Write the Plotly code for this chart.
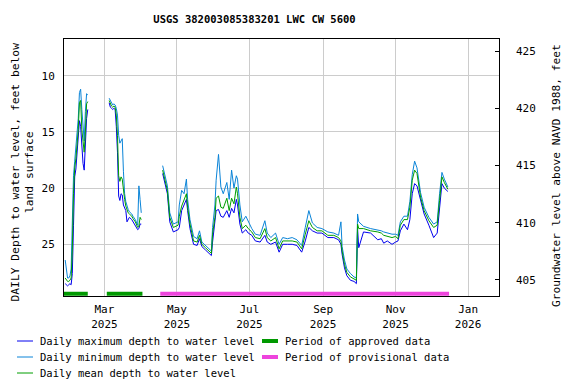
import plotly.graph_objects as go

FONT = "DejaVu Sans Mono"
MAX_COLOR = "#0000ee"
MIN_COLOR = "#0a84d8"
MEAN_COLOR = "#009e00"
APPROVED_COLOR = "#009900"
PROVISIONAL_COLOR = "#ee44dd"
GRID_COLOR = "#cccccc"

# the page body has an 8 px margin, so the figure is 8 px smaller than the
# window and every pixel position below is the reference position minus 8
FIG_W, FIG_H = 568, 376
PLOT_L, PLOT_R, PLOT_T, PLOT_B = 56, 491, 31, 288

# daily values (depth below land surface, feet)
dates = [
    "2025-01-27", "2025-01-28", "2025-01-29", "2025-01-30", "2025-01-31",
    "2025-02-01", "2025-02-02", "2025-02-03", "2025-02-04", "2025-02-05",
    "2025-02-06", "2025-02-07", "2025-02-08", "2025-02-09", "2025-02-10",
    "2025-02-11", "2025-02-12", "2025-02-13", "2025-02-14", "2025-02-15",
    "2025-02-25",
    "2025-03-05", "2025-03-06", "2025-03-07", "2025-03-08", "2025-03-09",
    "2025-03-10", "2025-03-11", "2025-03-12", "2025-03-13", "2025-03-14",
    "2025-03-15", "2025-03-16", "2025-03-17", "2025-03-18", "2025-03-19",
    "2025-03-20", "2025-03-21", "2025-03-22", "2025-03-24", "2025-03-25",
    "2025-03-27", "2025-03-29", "2025-03-30", "2025-03-31", "2025-04-01",
    "2025-04-10",
    "2025-04-19", "2025-04-23", "2025-04-25", "2025-04-28", "2025-05-02",
    "2025-05-03", "2025-05-05", "2025-05-07", "2025-05-09", "2025-05-10",
    "2025-05-12", "2025-05-15", "2025-05-18", "2025-05-20", "2025-05-22",
    "2025-05-25", "2025-05-29", "2025-05-30", "2025-05-31", "2025-06-02",
    "2025-06-03", "2025-06-05", "2025-06-07", "2025-06-09", "2025-06-12",
    "2025-06-14", "2025-06-16", "2025-06-18", "2025-06-20", "2025-06-21",
    "2025-06-23", "2025-06-25", "2025-06-28", "2025-06-30", "2025-07-03",
    "2025-07-06", "2025-07-10", "2025-07-14", "2025-07-16", "2025-07-19",
    "2025-07-23", "2025-07-26", "2025-07-29", "2025-08-02", "2025-08-06",
    "2025-08-10", "2025-08-14", "2025-08-17", "2025-08-20", "2025-08-23",
    "2025-08-27", "2025-08-31", "2025-09-05", "2025-09-10", "2025-09-14",
    "2025-09-16", "2025-09-17", "2025-09-19", "2025-09-21", "2025-09-24",
    "2025-09-27", "2025-09-29", "2025-09-30", "2025-10-01", "2025-10-05",
    "2025-10-11", "2025-10-17", "2025-10-20", "2025-10-22", "2025-10-25",
    "2025-10-29", "2025-11-01", "2025-11-03", "2025-11-05", "2025-11-08",
    "2025-11-11", "2025-11-13", "2025-11-15", "2025-11-17", "2025-11-19",
    "2025-11-22", "2025-11-25", "2025-11-29", "2025-12-03", "2025-12-06",
    "2025-12-08", "2025-12-10", "2025-12-12", "2025-12-15",
]

depth_max = [
    28.5, 28.6, 28.7, 28.6, 28.5, 28.6, 27.6, 23.3, 19.0, 18.3,
    17.0, 16.0, 14.0, 14.5, 16.6, 17.8, 18.4, 16.2, 13.8, 13.0,
    None,
    12.4, 12.8, 12.9, 13.0, 12.9, 13.0, 14.5, 16.8, 20.7, 21.1,
    20.5, 20.6, 21.5, 21.8, 22.0, 23.0, 22.8, 22.6, 22.8, 23.0,
    23.3, 23.7, 23.6, 23.2, 23.2,
    None,
    18.7, 20.5, 23.0, 23.9, 23.7, 23.5, 22.0, 21.5, 21.0, 22.0,
    23.6, 25.0, 25.1, 24.5, 25.2, 25.5, 25.9, 26.0, 24.8, 23.2,
    22.0, 21.9, 22.5, 22.6, 22.0, 22.6, 21.8, 22.2, 21.0, 21.5,
    23.2, 24.0, 23.7, 24.0, 24.2, 24.7, 24.8, 24.2, 24.8, 25.0,
    24.8, 25.7, 25.0, 25.0, 25.0, 25.1, 25.7, 24.7, 23.5, 23.8,
    24.0, 24.0, 24.4, 24.4, 24.6, 25.0, 25.9, 27.1, 27.8, 28.2,
    28.3, 28.5, 23.6, 25.3, 23.9, 24.0, 24.6, 24.5, 24.9, 24.7,
    25.0, 24.8, 24.7, 23.8, 23.2, 23.7, 22.8, 20.5, 19.6, 19.8,
    21.2, 22.3, 23.3, 24.4, 24.0, 22.0, 19.6, 20.0, 20.3,
]

depth_min = [
    26.4, 27.5, 28.0, 28.0, 27.8, 27.2, 23.2, 18.9, 17.6, 16.5,
    15.0, 13.8, 11.5, 11.2, 13.0, 15.0, 15.8, 13.2, 11.6, 11.7,
    None,
    12.0, 12.2, 12.5, 12.6, 12.5, 12.6, 12.9, 13.5, 15.3, 16.0,
    15.8, 15.6, 18.5, 20.5, 21.2, 21.7, 21.9, 22.1, 22.3, 22.5,
    22.8, 23.3, 19.8, 21.0, 22.2,
    None,
    18.0, 19.8, 22.2, 23.2, 23.0, 21.5, 20.2, 20.5, 19.2, 21.0,
    22.8, 24.3, 24.5, 23.8, 24.8, 25.1, 25.5, 25.6, 23.5, 21.5,
    19.3, 17.0, 19.9, 20.5, 19.5, 21.0, 18.4, 20.0, 18.9, 19.2,
    21.5, 23.0, 22.5, 23.0, 23.6, 24.1, 24.2, 22.9, 24.0, 24.4,
    24.0, 25.0, 24.4, 24.5, 24.4, 24.6, 25.1, 23.5, 22.0, 23.1,
    23.5, 23.6, 23.9, 24.0, 24.2, 23.0, 25.2, 26.4, 27.2, 27.6,
    27.9, 28.0, 22.3, 23.0, 23.4, 23.6, 23.7, 23.8, 23.9, 24.0,
    24.1, 24.1, 24.2, 23.0, 22.5, 22.5, 21.2, 18.8, 17.6, 18.2,
    20.4, 21.7, 22.6, 23.2, 23.0, 20.5, 18.6, 19.2, 19.9,
]

depth_mean = [
    28.0, 28.2, 28.3, 28.3, 28.2, 28.0, 25.5, 20.5, 18.2, 17.4,
    16.0, 14.8, 12.4, 12.2, 14.8, 16.2, 16.8, 15.0, 12.5, 12.3,
    None,
    12.2, 12.5, 12.7, 12.8, 12.7, 12.8, 13.5, 15.3, 18.9, 19.4,
    19.0, 19.2, 20.4, 21.0, 21.6, 22.0, 22.2, 22.3, 22.5, 22.7,
    23.0, 23.5, 23.4, 22.6, 22.8,
    None,
    18.4, 20.2, 22.6, 23.5, 23.3, 22.5, 21.6, 21.0, 20.5, 21.7,
    23.2, 24.7, 24.8, 24.2, 25.0, 25.3, 25.7, 25.8, 24.1, 22.6,
    20.9, 20.7, 21.7, 21.8, 20.9, 22.0, 20.9, 21.4, 19.9, 20.5,
    22.6, 23.6, 23.3, 23.6, 23.9, 24.4, 24.5, 23.6, 24.4, 24.7,
    24.4, 25.4, 24.7, 24.7, 24.7, 24.8, 25.4, 24.1, 22.9, 23.5,
    23.8, 23.8, 24.2, 24.2, 24.4, 24.7, 25.6, 26.8, 27.5, 27.9,
    28.1, 28.2, 23.2, 23.6, 23.6, 23.8, 23.9, 24.0, 24.2, 24.3,
    24.4, 24.3, 24.5, 23.3, 22.8, 22.8, 21.7, 19.3, 18.4, 18.7,
    20.8, 22.0, 22.9, 23.5, 23.3, 21.1, 19.0, 19.5, 20.1,
]

# approval periods (start, end)
approved_periods = [("2025-01-26", "2025-02-15"), ("2025-03-03", "2025-04-02")]
provisional_periods = [("2025-04-17", "2025-12-16")]
PERIOD_DEPTH = 29.4

tick_dates = ["2025-03-01", "2025-05-01", "2025-07-01", "2025-09-01", "2025-11-01", "2026-01-01"]
tick_text = ["Mar<br>2025", "May<br>2025", "Jul<br>2025", "Sep<br>2025", "Nov<br>2025", "Jan<br>2026"]

x_range = ["2025-01-26", "2026-01-27"]
depth_range = [29.6, 6.73]
elev_range = [403.6, 426.05]

# legend entries: (label, colour, line width, column, row)
legend_items = [
    ("Daily maximum depth to water level", MAX_COLOR, 1, 0, 0),
    ("Daily minimum depth to water level", MIN_COLOR, 1, 0, 1),
    ("Daily mean depth to water level", MEAN_COLOR, 1, 0, 2),
    ("Period of approved data", APPROVED_COLOR, 4, 1, 0),
    ("Period of provisional data", PROVISIONAL_COLOR, 4, 1, 1),
]
LEGEND_COL_X = [9, 254]
LEGEND_ROW_Y = [333, 349, 365]


def period_xy(periods):
    xs, ys = [], []
    for start, end in periods:
        xs += [start, end, None]
        ys += [PERIOD_DEPTH, PERIOD_DEPTH, None]
    return xs, ys


def paper_x(px):
    return (px - PLOT_L) / (PLOT_R - PLOT_L)


def paper_y(py):
    return (PLOT_B - py) / (PLOT_B - PLOT_T)


fig = go.Figure()

fig.add_trace(go.Scatter(
    x=dates, y=depth_max, mode="lines", name="Daily maximum depth to water level",
    line=dict(color=MAX_COLOR, width=1),
))
fig.add_trace(go.Scatter(
    x=dates, y=depth_min, mode="lines", name="Daily minimum depth to water level",
    line=dict(color=MIN_COLOR, width=1),
))
fig.add_trace(go.Scatter(
    x=dates, y=depth_mean, mode="lines", name="Daily mean depth to water level",
    line=dict(color=MEAN_COLOR, width=1),
))
ax, ay = period_xy(approved_periods)
fig.add_trace(go.Scatter(
    x=ax, y=ay, mode="lines", name="Period of approved data",
    line=dict(color=APPROVED_COLOR, width=4),
))
px_, py_ = period_xy(provisional_periods)
fig.add_trace(go.Scatter(
    x=px_, y=py_, mode="lines", name="Period of provisional data",
    line=dict(color=PROVISIONAL_COLOR, width=4),
))
# empty trace so the elevation axis is drawn
fig.add_trace(go.Scatter(x=[None], y=[None], yaxis="y2", showlegend=False, hoverinfo="skip"))

# legend drawn by hand so the rows sit 16 px apart like the original
for label, color, width, col, row in legend_items:
    x0 = LEGEND_COL_X[col]
    y0 = LEGEND_ROW_Y[row]
    fig.add_shape(
        type="line", xref="paper", yref="paper",
        x0=paper_x(x0), x1=paper_x(x0 + 16), y0=paper_y(y0), y1=paper_y(y0),
        line=dict(color=color, width=width),
    )
    fig.add_annotation(
        xref="paper", yref="paper", x=paper_x(x0 + 21), y=paper_y(y0),
        xanchor="left", yanchor="middle", showarrow=False, text=label,
        font=dict(family=FONT, size=10.5, color="black"),
    )

# axis titles as rotated annotations (the original centres them a bit low)
fig.add_annotation(
    xref="paper", yref="paper", x=paper_x(14.5), y=paper_y(164),
    xanchor="center", yanchor="middle", textangle=-90, showarrow=False,
    text="DAILY Depth to water level, feet below<br>land surface",
    font=dict(family=FONT, size=11.3, color="black"),
)
fig.add_annotation(
    xref="paper", yref="paper", x=paper_x(548), y=paper_y(168),
    xanchor="center", yanchor="middle", textangle=-90, showarrow=False,
    text="Groundwater level above NAVD 1988, feet",
    font=dict(family=FONT, size=11.2, color="black"),
)

fig.update_xaxes(
    range=x_range,
    tickvals=tick_dates,
    ticktext=tick_text,
    showgrid=True,
    gridcolor=GRID_COLOR,
    showline=True,
    linecolor="black",
    linewidth=1,
    mirror=True,
    ticks="",
    ticklabelstandoff=3,
    automargin=False,
    tickfont=dict(family=FONT, size=11, color="black"),
    zeroline=False,
)

fig.update_layout(
    width=FIG_W,
    height=FIG_H,
    margin=dict(l=PLOT_L, r=FIG_W - PLOT_R, t=PLOT_T, b=FIG_H - PLOT_B, autoexpand=False),
    plot_bgcolor="white",
    paper_bgcolor="white",
    font=dict(family=FONT, color="black"),
    showlegend=False,
    title=dict(
        text="<b>USGS 382003085383201 LWC CW 5600</b>",
        x=paper_x(246.5),
        xref="paper",
        xanchor="center",
        y=1 - 11 / FIG_H,
        yanchor="middle",
        font=dict(family=FONT, size=10.5, color="black"),
    ),
    yaxis=dict(
        range=depth_range,
        dtick=5,
        showgrid=True,
        gridcolor=GRID_COLOR,
        showline=True,
        linecolor="black",
        linewidth=1,
        mirror=True,
        ticks="",
        ticklabelstandoff=6,
        automargin=False,
        zeroline=False,
        tickfont=dict(family=FONT, size=11, color="black"),
    ),
    yaxis2=dict(
        range=elev_range,
        dtick=5,
        overlaying="y",
        side="right",
        showgrid=False,
        zeroline=False,
        ticks="inside",
        ticklen=4,
        tickcolor="black",
        ticklabelstandoff=16,
        automargin=False,
        tickfont=dict(family=FONT, size=11, color="black"),
    ),
)

fig.write_html("out.html")
